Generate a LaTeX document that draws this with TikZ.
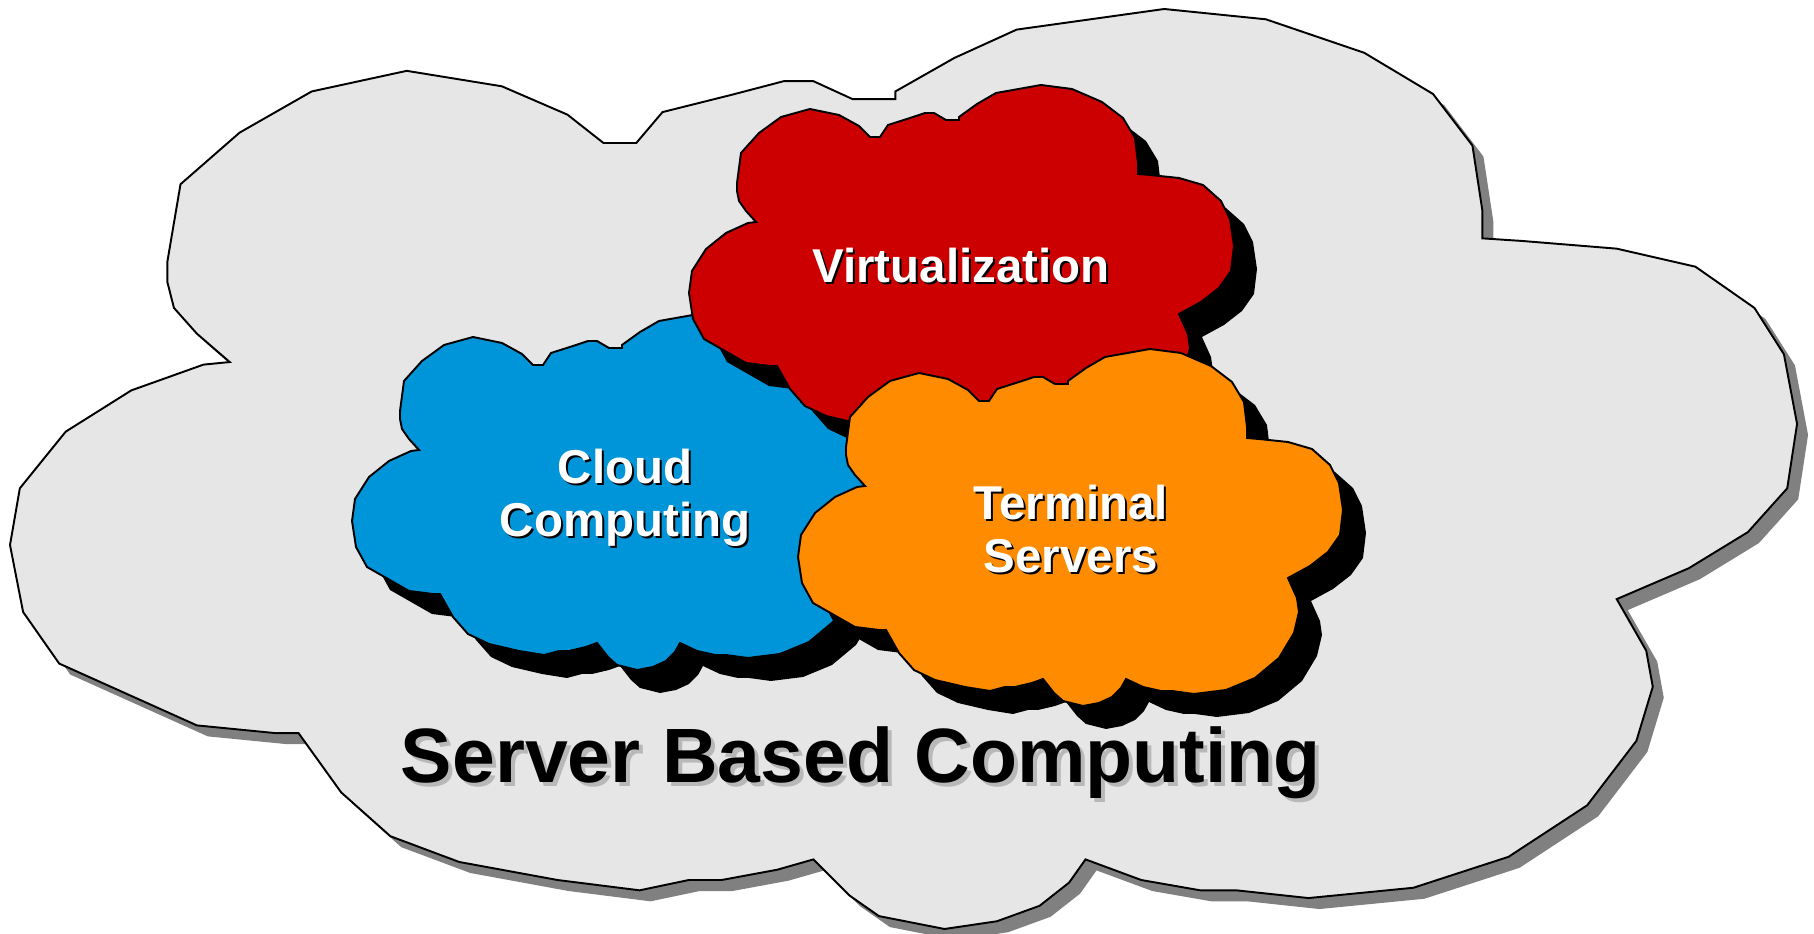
\documentclass[tikz,border=0pt]{standalone}
\usepackage{fontspec}
\setmainfont{Liberation Sans}
\definecolor{cloudgrey}{HTML}{E6E6E6}
\definecolor{greyshadow}{HTML}{808080}
\definecolor{cloudblue}{HTML}{0094D9}
\definecolor{cloudred}{HTML}{CC0000}
\definecolor{cloudorange}{HTML}{FF8C00}
\definecolor{titleshadow}{HTML}{B8B8B8}
\tikzset{
  cloudpath/.style={insert path={
    (121,24) -- (150,30) -- (170,41) -- (181,52) -- (191,52) -- (199,40) --
    (221,33) -- (236,28) -- (245,28) -- (257,35) -- (270,35) -- (270,32) --
    (288,19) -- (307,8) -- (352,0) -- (383,4) -- (413,17) -- (434,33) --
    (446,53) -- (449,78) -- (449,89) -- (461,90) -- (490,93) -- (514,100) --
    (532,116) -- (541,134) -- (545,161) -- (542,186) -- (530,203) -- (512,217) --
    (490,229) -- (499,249) -- (501,263) -- (496,284) -- (481,309) -- (457,329) --
    (428,341) -- (396,345) -- (374,342) -- (363,342) -- (345,338) -- (328,330) --
    (323,339) -- (314,348) -- (301,354) -- (285,357) -- (265,352) -- (256,344) --
    (245,330) -- (234,334) -- (217,338) -- (207,338) -- (192,342) -- (167,338) --
    (137,331) -- (116,321) -- (101,304) -- (88,281) -- (81,281) -- (57,278) --
    (15,254) -- (4,234) -- (0,208) -- (3,186) -- (17,164) -- (37,148) --
    (59,138) -- (67,137) -- (57,126) -- (50,116) -- (48,106) -- (48,98) --
    (52,68) -- (70,48) -- (92,32) -- cycle}},
  outline/.style={draw=black, line width=0.55pt, line join=miter},
  lbl/.style={text=white, font=\bfseries\fontsize{13.5}{16}\selectfont, anchor=base, inner sep=0pt},
  lblsh/.style={lbl, text=black},
  ttl/.style={text=black, font=\bfseries\fontsize{21.9}{26}\selectfont, anchor=base, inner sep=0pt},
  ttlsh/.style={ttl, text=titleshadow}
}
\begin{document}
\begin{tikzpicture}[x=0.01cm, y=-0.01cm]
\useasboundingbox (0,0) rectangle (1814,934);
% big grey cloud
\begin{scope}[shift={(21,20)}, xscale=3.279, yscale=2.577]
  \fill[greyshadow, cloudpath];
\end{scope}
\begin{scope}[shift={(10,9)}, xscale=3.279, yscale=2.577]
  \path[fill=cloudgrey, outline, cloudpath];
\end{scope}
% blue cloud
\begin{scope}[shift={(375,336)}]
  \fill[black, cloudpath];
\end{scope}
\begin{scope}[shift={(352,313)}]
  \path[fill=cloudblue, outline, cloudpath];
\end{scope}
% red cloud
\begin{scope}[shift={(712,108)}]
  \fill[black, cloudpath];
\end{scope}
\begin{scope}[shift={(689,85)}]
  \path[fill=cloudred, outline, cloudpath];
\end{scope}
% orange cloud
\begin{scope}[shift={(821,372)}]
  \fill[black, cloudpath];
\end{scope}
\begin{scope}[shift={(798,349)}]
  \path[fill=cloudorange, outline, cloudpath];
\end{scope}
% labels
\node[lblsh] (virtsh) at (963,285) {Virtualization};
\node[lbl] (virt) at (961,283) {Virtualization};
\node[lblsh] (cloudsh) at (627,486) {Cloud};
\node[lbl] (cloud) at (625,484) {Cloud};
\node[lblsh] (compsh) at (627,539) {Computing};
\node[lbl] (comp) at (625,537) {Computing};
\node[lblsh] (termsh) at (1073,522) {Terminal};
\node[lbl] (term) at (1071,520) {Terminal};
\node[lblsh] (servsh) at (1073,575) {Servers};
\node[lbl] (serv) at (1071,573) {Servers};
\node[ttlsh] (titlesh) at (865,787) {Server Based Computing};
\node[ttl] (title) at (861,783) {Server Based Computing};
\end{tikzpicture}
\end{document}
